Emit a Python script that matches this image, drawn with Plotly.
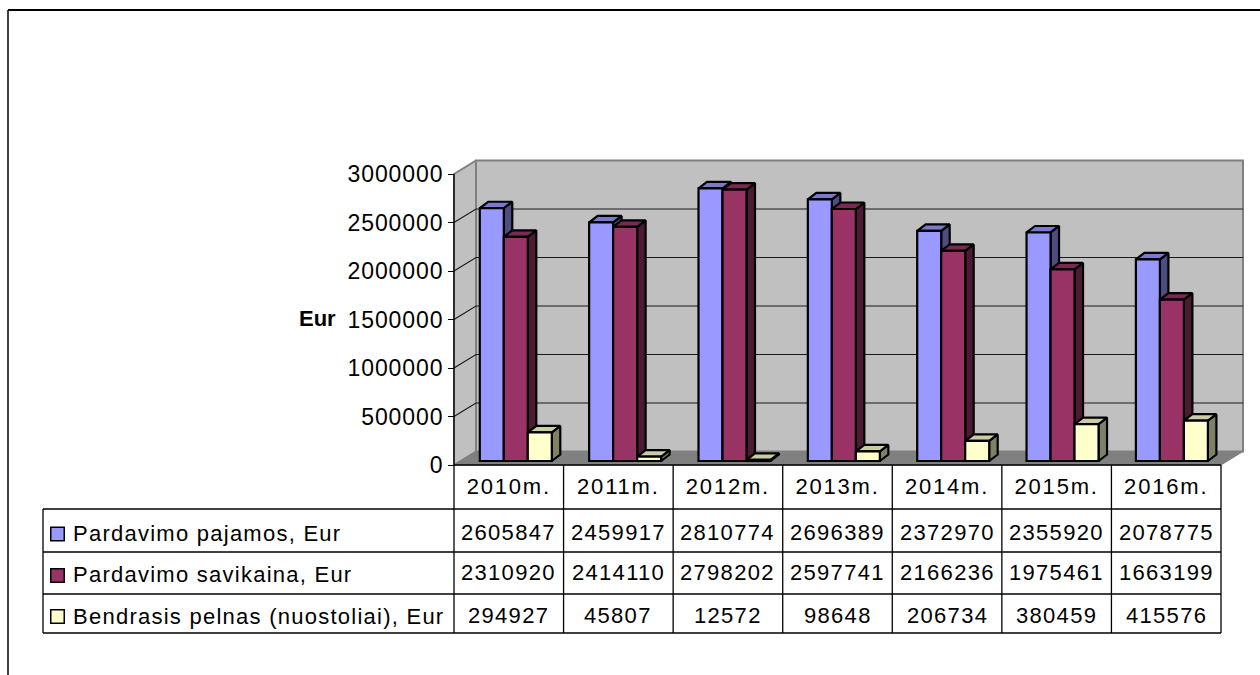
import plotly.graph_objects as go

# ---------- data ----------
years = ["2010m.", "2011m.", "2012m.", "2013m.", "2014m.", "2015m.", "2016m."]
series_names = ["Pardavimo pajamos, Eur", "Pardavimo savikaina, Eur", "Bendrasis pelnas (nuostoliai), Eur"]
pajamos = [2605847, 2459917, 2810774, 2696389, 2372970, 2355920, 2078775]
savikaina = [2310920, 2414110, 2798202, 2597741, 2166236, 1975461, 1663199]
pelnas = [294927, 45807, 12572, 98648, 206734, 380459, 415576]
y_ticks = [0, 500000, 1000000, 1500000, 2000000, 2500000, 3000000]

# ---------- style ----------
front = ["#9999FF", "#993366", "#FFFFCC"]
side = ["#4D4D80", "#4D1A33", "#808066"]
top = ["#7A7ACC", "#7A2952", "#CCCCA3"]
W, H = 1260, 675
X0, CAT = 454.0, 767.0 / 7      # pixel of axis start, category width
Y0, Y_SPAN = 465.0, 291.0       # pixel of value 0, pixels for 3,000,000
FONT = "Liberation Sans, Arial, sans-serif"

def px_x(p):  # pixel to x axis unit
    return (p - X0) / CAT - 0.5

def px_y(p):  # pixel to y axis unit
    return (Y0 - p) / Y_SPAN * 3000000

def sp(text, ls):
    return f'<span style="letter-spacing:{ls}px">{text}</span>'

wall_dx, wall_dy = 22 / CAT, 13.5 / Y_SPAN * 3000000
bar_dx, bar_dy = 8.5 / CAT, 6.5 / Y_SPAN * 3000000
bar_w = 24.0 / CAT
bar_shift_x = 7.0 / CAT
bar_pitch = 109.35 / CAT
bar_base = 4.0 / Y_SPAN * 3000000
n = len(years)
xL, xR = -0.5, n - 0.5
ymax = y_ticks[-1]

fig = go.Figure()

def poly(xs, ys, fill, line="#000000", lw=2.2, z=1):
    fig.add_trace(go.Scatter(x=xs, y=ys, mode="lines", fill="toself", fillcolor=fill,
                             line=dict(color=line, width=lw), hoverinfo="skip",
                             showlegend=False, zorder=z))

# walls and floor
poly([xL, xL + wall_dx, xR + wall_dx, xR, xL], [0, wall_dy, wall_dy, 0, 0], "#808080", "#808080", 1, 0)
poly([xL + wall_dx, xR + wall_dx, xR + wall_dx, xL + wall_dx, xL + wall_dx],
     [wall_dy, wall_dy, ymax + wall_dy, ymax + wall_dy, wall_dy], "#C0C0C0", "#808080", 2, 0)
poly([xL, xL + wall_dx, xL + wall_dx, xL, xL], [0, wall_dy, ymax + wall_dy, ymax, 0], "#C0C0C0", "#808080", 2, 0)

# gridlines
gx, gy = [], []
for t in y_ticks[1:-1]:
    gx += [xL, xL + wall_dx, xR + wall_dx, None]
    gy += [t, t + wall_dy, t + wall_dy, None]
fig.add_trace(go.Scatter(x=gx, y=gy, mode="lines", line=dict(color="#1a1a1a", width=1.2),
                         hoverinfo="skip", showlegend=False, zorder=0))
# axis lines
fig.add_trace(go.Scatter(x=[xL, xL, xR], y=[ymax, 0, 0], mode="lines", line=dict(color="#000000", width=1.3),
                         hoverinfo="skip", showlegend=False, zorder=0))

# bars
for s, vals in enumerate([pajamos, savikaina, pelnas]):
    z = 2 + s * 2
    sx, sy, tx, ty, cx = [], [], [], [], []
    for i, v in enumerate(vals):
        c = i * bar_pitch + bar_shift_x + (s - 1) * bar_w
        l, r = c - bar_w / 2, c + bar_w / 2
        t = bar_base + v
        sx += [r, r + bar_dx, r + bar_dx, r, r, None]
        sy += [bar_base, bar_base + bar_dy, t + bar_dy, t, bar_base, None]
        tx += [l, l + bar_dx, r + bar_dx, r, l, None]
        ty += [t, t + bar_dy, t + bar_dy, t, t, None]
        cx.append(c)
    poly(sx, sy, side[s], z=z)
    poly(tx, ty, top[s], z=z)
    fig.add_trace(go.Bar(x=cx, y=vals, base=bar_base, width=bar_w, name=series_names[s],
                         marker=dict(color=front[s], line=dict(color="#000000", width=2.2)),
                         showlegend=False, zorder=z + 1))

# ---------- table ----------
T_LEFT, T_R1, T_BOT = 43, 509, 633
shapes = []
def hline(x0, x1, y, w=1.3):
    shapes.append(dict(type="line", xref="paper", yref="paper", x0=x0 / W, x1=x1 / W,
                       y0=1 - y / H, y1=1 - y / H, line=dict(color="#000000", width=w)))
def vline(x, y0, y1, w=1.3):
    shapes.append(dict(type="line", xref="paper", yref="paper", x0=x / W, x1=x / W,
                       y0=1 - y0 / H, y1=1 - y1 / H, line=dict(color="#000000", width=w)))
for y in [509, 552, 594, 633]:
    hline(T_LEFT, 1221, y)
for k in range(n + 1):
    vline(X0 + CAT * k, 465, T_BOT)
vline(T_LEFT, T_R1, T_BOT)
# outer chart frame
hline(8, W + 5, 10, 2)
vline(8, 10, H + 5, 1.5)

annots = []
TXT = 22
LS_NUM, LS_LAB = 1.3, 1.25
row_y_num = [532, 572.5, 615]
row_y_lab = [533, 574.5, 616.5]
key_y = [534, 575.5, 616.5]
for s, vals in enumerate([pajamos, savikaina, pelnas]):
    annots.append(dict(x=px_x(70.5), y=px_y(row_y_lab[s]), xref="x", yref="y", xanchor="left", yanchor="middle",
                       text=sp(series_names[s], LS_LAB), showarrow=False, font=dict(family=FONT, size=TXT, color="#000000")))
    for i, v in enumerate(vals):
        annots.append(dict(x=i, y=px_y(row_y_num[s]), xref="x", yref="y", xanchor="center", yanchor="middle",
                           text=sp(str(v), LS_NUM), showarrow=False, font=dict(family=FONT, size=TXT, color="#000000")))
    fig.add_trace(go.Scatter(x=[px_x(57.5)], y=[px_y(key_y[s])], mode="markers", hoverinfo="skip", showlegend=False,
                             marker=dict(symbol="square", size=13.5, color=front[s], line=dict(color="#000000", width=1.5)),
                             zorder=8))
annots.append(dict(x=px_x(317), y=px_y(318), xref="x", yref="y", xanchor="center", yanchor="middle",
                   text="<b>Eur</b>", showarrow=False, font=dict(family=FONT, size=22, color="#000000")))

fig.update_layout(
    width=W, height=H, autosize=False, margin=dict(l=0, r=0, t=0, b=0),
    plot_bgcolor="#FFFFFF", paper_bgcolor="#FFFFFF", barmode="overlay",
    shapes=shapes, annotations=annots, showlegend=False,
    xaxis=dict(range=[px_x(0), px_x(W)], tickmode="array", tickvals=list(range(n)),
               ticktext=[sp(t, 1.8) for t in years], showgrid=False, zeroline=False, showline=False, ticks="",
               anchor="free", position=1 - Y0 / H, side="bottom", ticklabelstandoff=6,
               tickfont=dict(family=FONT, size=TXT, color="#000000")),
    yaxis=dict(range=[px_y(H), px_y(0)], tickmode="array", tickvals=y_ticks,
               ticktext=[sp(str(t), 0.9) for t in y_ticks], showgrid=False, zeroline=False, showline=False,
               ticks="outside", ticklen=6, tickwidth=1.3, tickcolor="#000000",
               anchor="free", position=X0 / W, side="left",
               tickfont=dict(family=FONT, size=23, color="#000000")),
)
fig.write_html("out.html", config={"displayModeBar": False},
               post_script="document.body.style.margin='0';document.body.style.overflow='hidden';")
